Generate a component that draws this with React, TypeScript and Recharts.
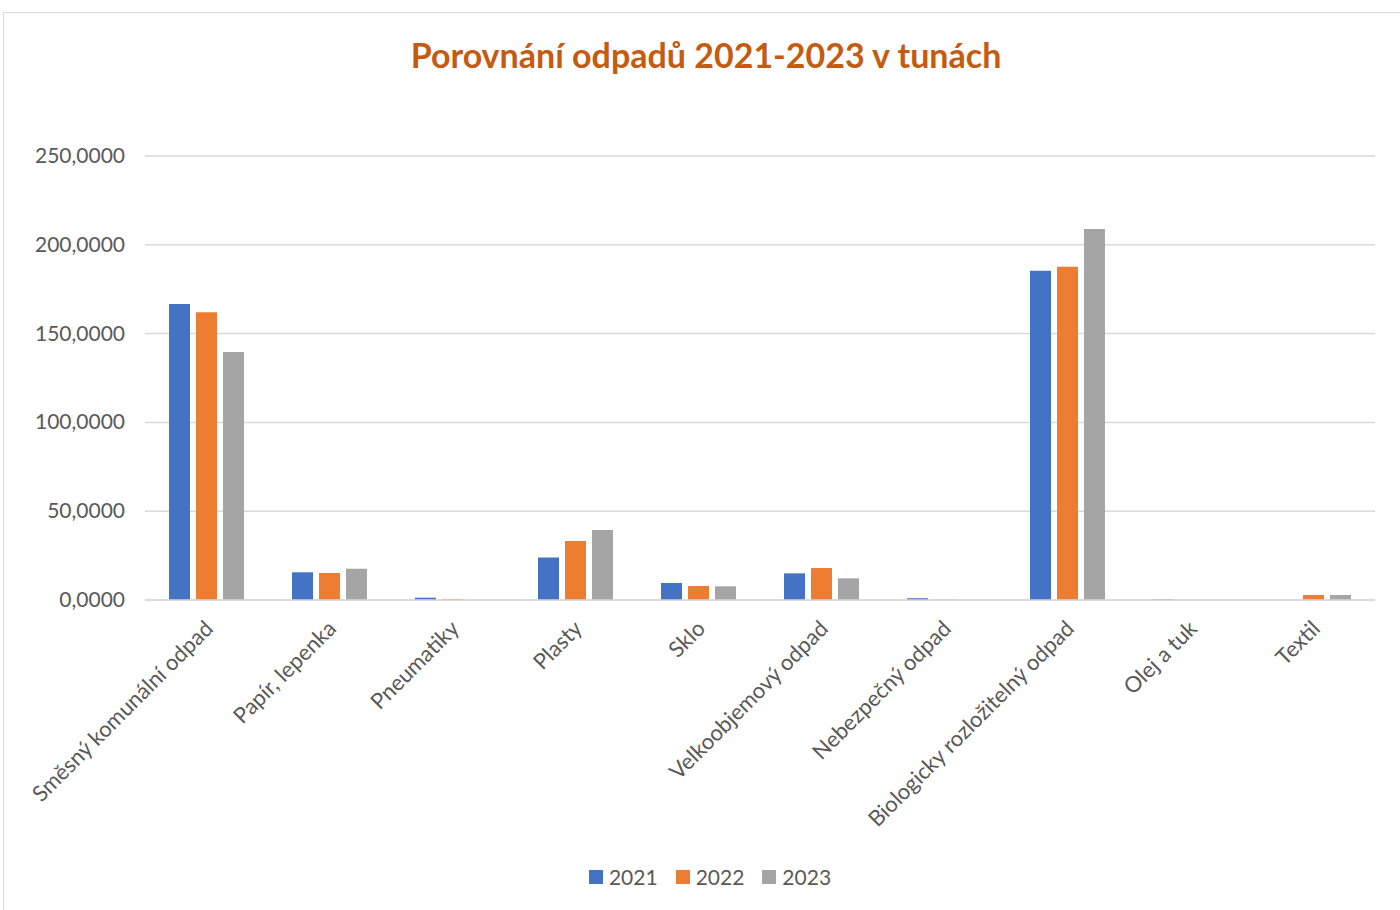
import { Bar, BarChart, CartesianGrid, XAxis, YAxis } from 'recharts'

const categories = [
  'Směsný komunální odpad',
  'Papír, lepenka',
  'Pneumatiky',
  'Plasty',
  'Sklo',
  'Velkoobjemový odpad',
  'Nebezpečný odpad',
  'Biologicky rozložitelný odpad',
  'Olej a tuk',
  'Textil',
]
const values2021 = [166.7, 15.6, 1.3, 24.0, 9.6, 15.0, 1.0, 185.4, 0.3, 0]
const values2022 = [162.0, 15.2, 0.6, 33.2, 7.9, 18.0, 0.2, 187.7, 0, 2.8]
const values2023 = [139.6, 17.6, 0, 39.4, 7.7, 12.2, 0, 208.9, 0, 2.8]
const yTicks = [0, 50, 100, 150, 200, 250]

const series = [
  { key: 'y2021', name: '2021', color: '#4472C4' },
  { key: 'y2022', name: '2022', color: '#ED7D31' },
  { key: 'y2023', name: '2023', color: '#A5A5A5' },
]

const FONT = 'Lato, "Open Sans", sans-serif'

const data = categories.map((name, i) => ({
  name,
  y2021: values2021[i],
  y2022: values2022[i],
  y2023: values2023[i],
}))

const fmt = (v: number) => v.toFixed(4).replace('.', ',')

function XTick({ x, y, payload }: any) {
  const tx = x + 8
  const ty = y + 22
  return (
    <text
      x={tx}
      y={ty}
      transform={`rotate(-45, ${tx}, ${ty})`}
      textAnchor="end"
      fontSize={22}
      fontFamily={FONT}
      fill="#595959"
    >
      {payload.value}
    </text>
  )
}

function YTick({ y, payload }: any) {
  return (
    <text x={125} y={y + 7} textAnchor="end" fontSize={21} fontFamily={FONT} fill="#595959">
      {fmt(payload.value)}
    </text>
  )
}

export default function App() {
  return (
    <div style={{ position: 'absolute', left: 0, top: 0, width: 1400, height: 910, background: '#fff', fontFamily: FONT }}>
      <div
        style={{
          position: 'absolute',
          left: 3,
          top: 12,
          width: 1400,
          height: 910,
          border: '1px solid #d9d9d9',
          boxSizing: 'border-box',
        }}
      />
      <div
        style={{
          position: 'absolute',
          left: 0,
          top: 34,
          width: 1412,
          textAlign: 'center',
          color: '#C55A11',
          fontSize: 34,
          fontWeight: 700,
          fontFamily: FONT,
        }}
      >
        Porovnání odpadů 2021-2023 v tunách
      </div>
      <div style={{ position: 'absolute', left: 0, top: 0 }}>
        <BarChart
          width={1400}
          height={910}
          data={data}
          margin={{ top: 156, right: 25, bottom: 110, left: 0 }}
          barSize={21}
          barGap={6}
        >
          <CartesianGrid vertical={false} stroke="#d9d9d9" strokeWidth={1.5} />
          <XAxis
            dataKey="name"
            interval={0}
            axisLine={{ stroke: '#d9d9d9', strokeWidth: 1.5 }}
            tickLine={false}
            tick={<XTick />}
            height={200}
          />
          <YAxis
            domain={[0, 250]}
            ticks={yTicks}
            width={145}
            axisLine={false}
            tickLine={false}
            tick={<YTick />}
          />
          {series.map((s) => (
            <Bar key={s.key} dataKey={s.key} name={s.name} fill={s.color} isAnimationActive={false} />
          ))}
        </BarChart>
      </div>
      <div
        style={{
          position: 'absolute',
          left: 0,
          top: 864,
          width: 1420,
          display: 'flex',
          justifyContent: 'center',
          gap: 18,
          fontSize: 21,
          color: '#595959',
          lineHeight: '26px',
        }}
      >
        {series.map((s) => (
          <div key={s.key} style={{ display: 'flex', alignItems: 'center', gap: 6 }}>
            <span style={{ width: 14, height: 14, background: s.color, display: 'inline-block' }} />
            <span>{s.name}</span>
          </div>
        ))}
      </div>
    </div>
  )
}
